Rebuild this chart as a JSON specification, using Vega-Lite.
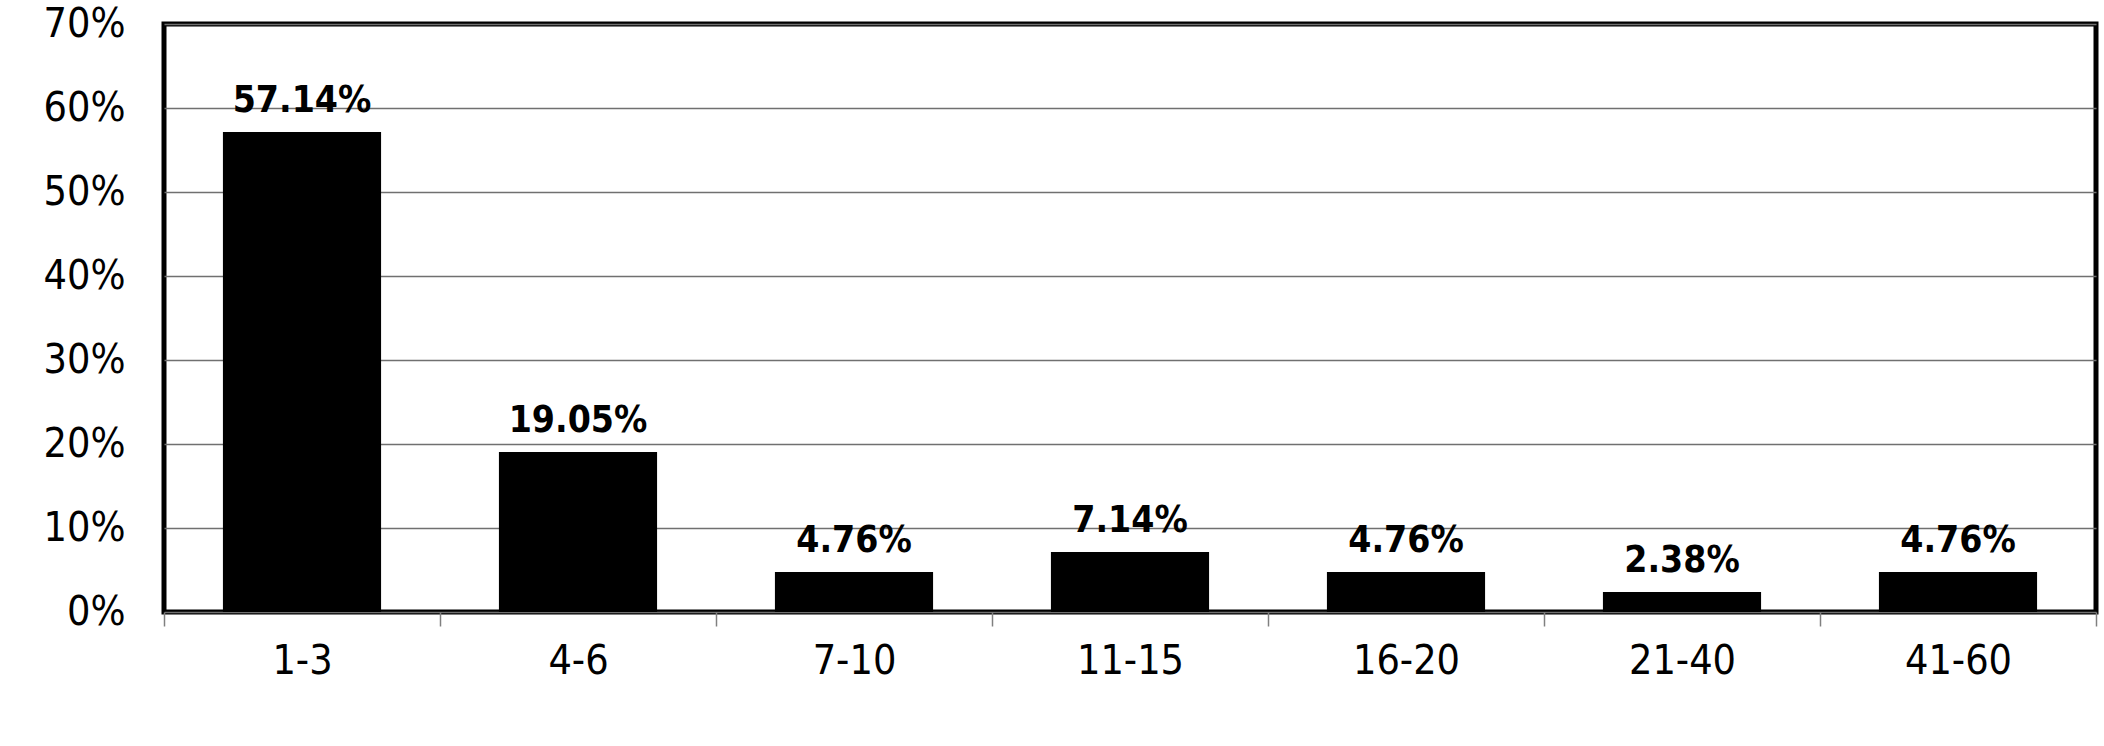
{
  "$schema": "https://vega.github.io/schema/vega-lite/v6.json",
  "autosize": {"type": "none"},
  "padding": {"left": 164, "top": 24, "right": 8, "bottom": 134},
  "width": 1932,
  "height": 588,
  "background": "white",
  "config": {
    "view": {"stroke": "black", "strokeWidth": 5},
    "font": "DejaVu Sans Condensed, Liberation Sans"
  },
  "data": {
    "values": [
      {"range": "1-3", "share": 0.5714},
      {"range": "4-6", "share": 0.1905},
      {"range": "7-10", "share": 0.0476},
      {"range": "11-15", "share": 0.0714},
      {"range": "16-20", "share": 0.0476},
      {"range": "21-40", "share": 0.0238},
      {"range": "41-60", "share": 0.0476}
    ]
  },
  "encoding": {
    "x": {
      "field": "range",
      "type": "nominal",
      "sort": null,
      "scale": {"paddingInner": 0, "paddingOuter": 0},
      "axis": {
        "title": null,
        "labelAngle": 0,
        "labelFont": "DejaVu Sans Condensed, Liberation Sans",
        "labelFontSize": 41,
        "labelColor": "black",
        "labelPadding": 15,
        "tickBand": "extent",
        "ticks": true,
        "tickColor": "#808080",
        "tickWidth": 1.5,
        "tickSize": 14,
        "domain": false,
        "grid": false
      }
    },
    "y": {
      "field": "share",
      "type": "quantitative",
      "scale": {"domain": [0, 0.7], "nice": false},
      "axis": {
        "title": null,
        "values": [0, 0.1, 0.2, 0.3, 0.4, 0.5, 0.6, 0.7],
        "format": ".0%",
        "labelFont": "DejaVu Sans Condensed, Liberation Sans",
        "labelFontSize": 41,
        "labelColor": "black",
        "labelPadding": 39,
        "ticks": false,
        "domain": false,
        "grid": true,
        "gridColor": "#707070",
        "gridWidth": 1.5
      }
    }
  },
  "layer": [
    {"mark": {"type": "bar", "color": "black", "width": {"band": 0.573}}},
    {
      "mark": {
        "type": "text",
        "baseline": "alphabetic",
        "dy": -20,
        "fontSize": 37,
        "fontWeight": "bold",
        "font": "DejaVu Sans Condensed, Liberation Sans",
        "color": "black"
      },
      "encoding": {
        "text": {"field": "share", "type": "quantitative", "format": ".2%"}
      }
    }
  ]
}
